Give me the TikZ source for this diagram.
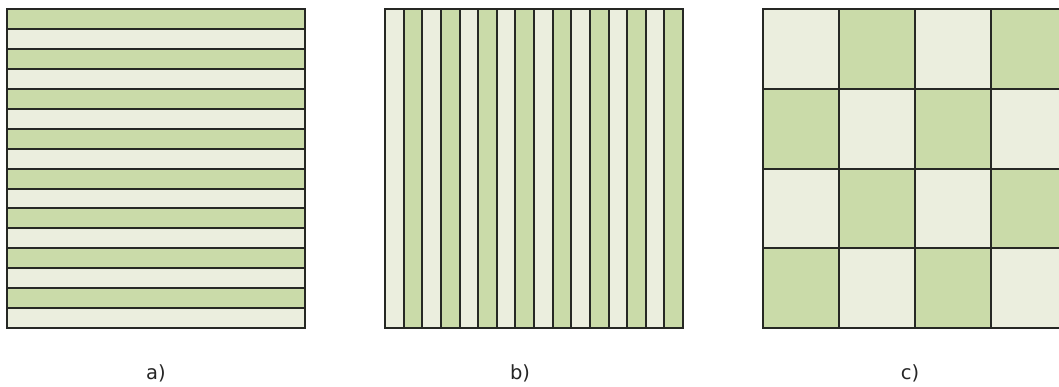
\documentclass[tikz,border=0pt]{standalone}
\usepackage{fontspec}
\setmainfont{DejaVu Sans}
\usetikzlibrary{positioning}

\definecolor{cellgreen}{RGB}{202,219,169}
\definecolor{celllight}{RGB}{235,238,222}
\definecolor{celledge}{RGB}{38,40,36}

\begin{document}
\begin{tikzpicture}[x=1pt, y=-1pt,
      cell/.style={draw=celledge, line width=2pt},
      lbl/.style={font=\fontsize{19.5}{22}\selectfont, text=black!85}]

    \useasboundingbox (0,0) rectangle (1059,387);
    \clip (0,0) rectangle (1059,387);

    % a) horizontal stripes
    \foreach \i in {0,2,...,14} {
      \draw[cell, fill=cellgreen] (7,{9.5+\i*19.9}) rectangle (305,{9.5+(\i+1)*19.9});
      \draw[cell, fill=celllight] (7,{9.5+(\i+1)*19.9}) rectangle (305,{9.5+(\i+2)*19.9});
    }

    % b) vertical stripes
    \foreach \i in {0,2,...,14} {
      \draw[cell, fill=celllight] ({385+\i*18.625},9.5) rectangle ({385+(\i+1)*18.625},328);
      \draw[cell, fill=cellgreen] ({385+(\i+1)*18.625},9.5) rectangle ({385+(\i+2)*18.625},328);
    }

    % c) checkerboard, cut at the right edge
    \foreach \i in {0,...,3} {
      \foreach \j in {0,...,3} {
        \pgfmathparse{mod(\i+\j,2)==0 ? "celllight" : "cellgreen"}
        \edef\cellcol{\pgfmathresult}
        \draw[cell, fill=\cellcol] ({763+\i*76},{9.5+\j*79.6}) rectangle ({763+(\i+1)*76},{9.5+(\j+1)*79.6});
      }
    }

    % captions
    \node[lbl] (capa) at (156,373) {a)};
    \node[lbl] (capb) at (520,373) {b)};
    \node[lbl] (capc) at (910,373) {c)};

\end{tikzpicture}
\end{document}
